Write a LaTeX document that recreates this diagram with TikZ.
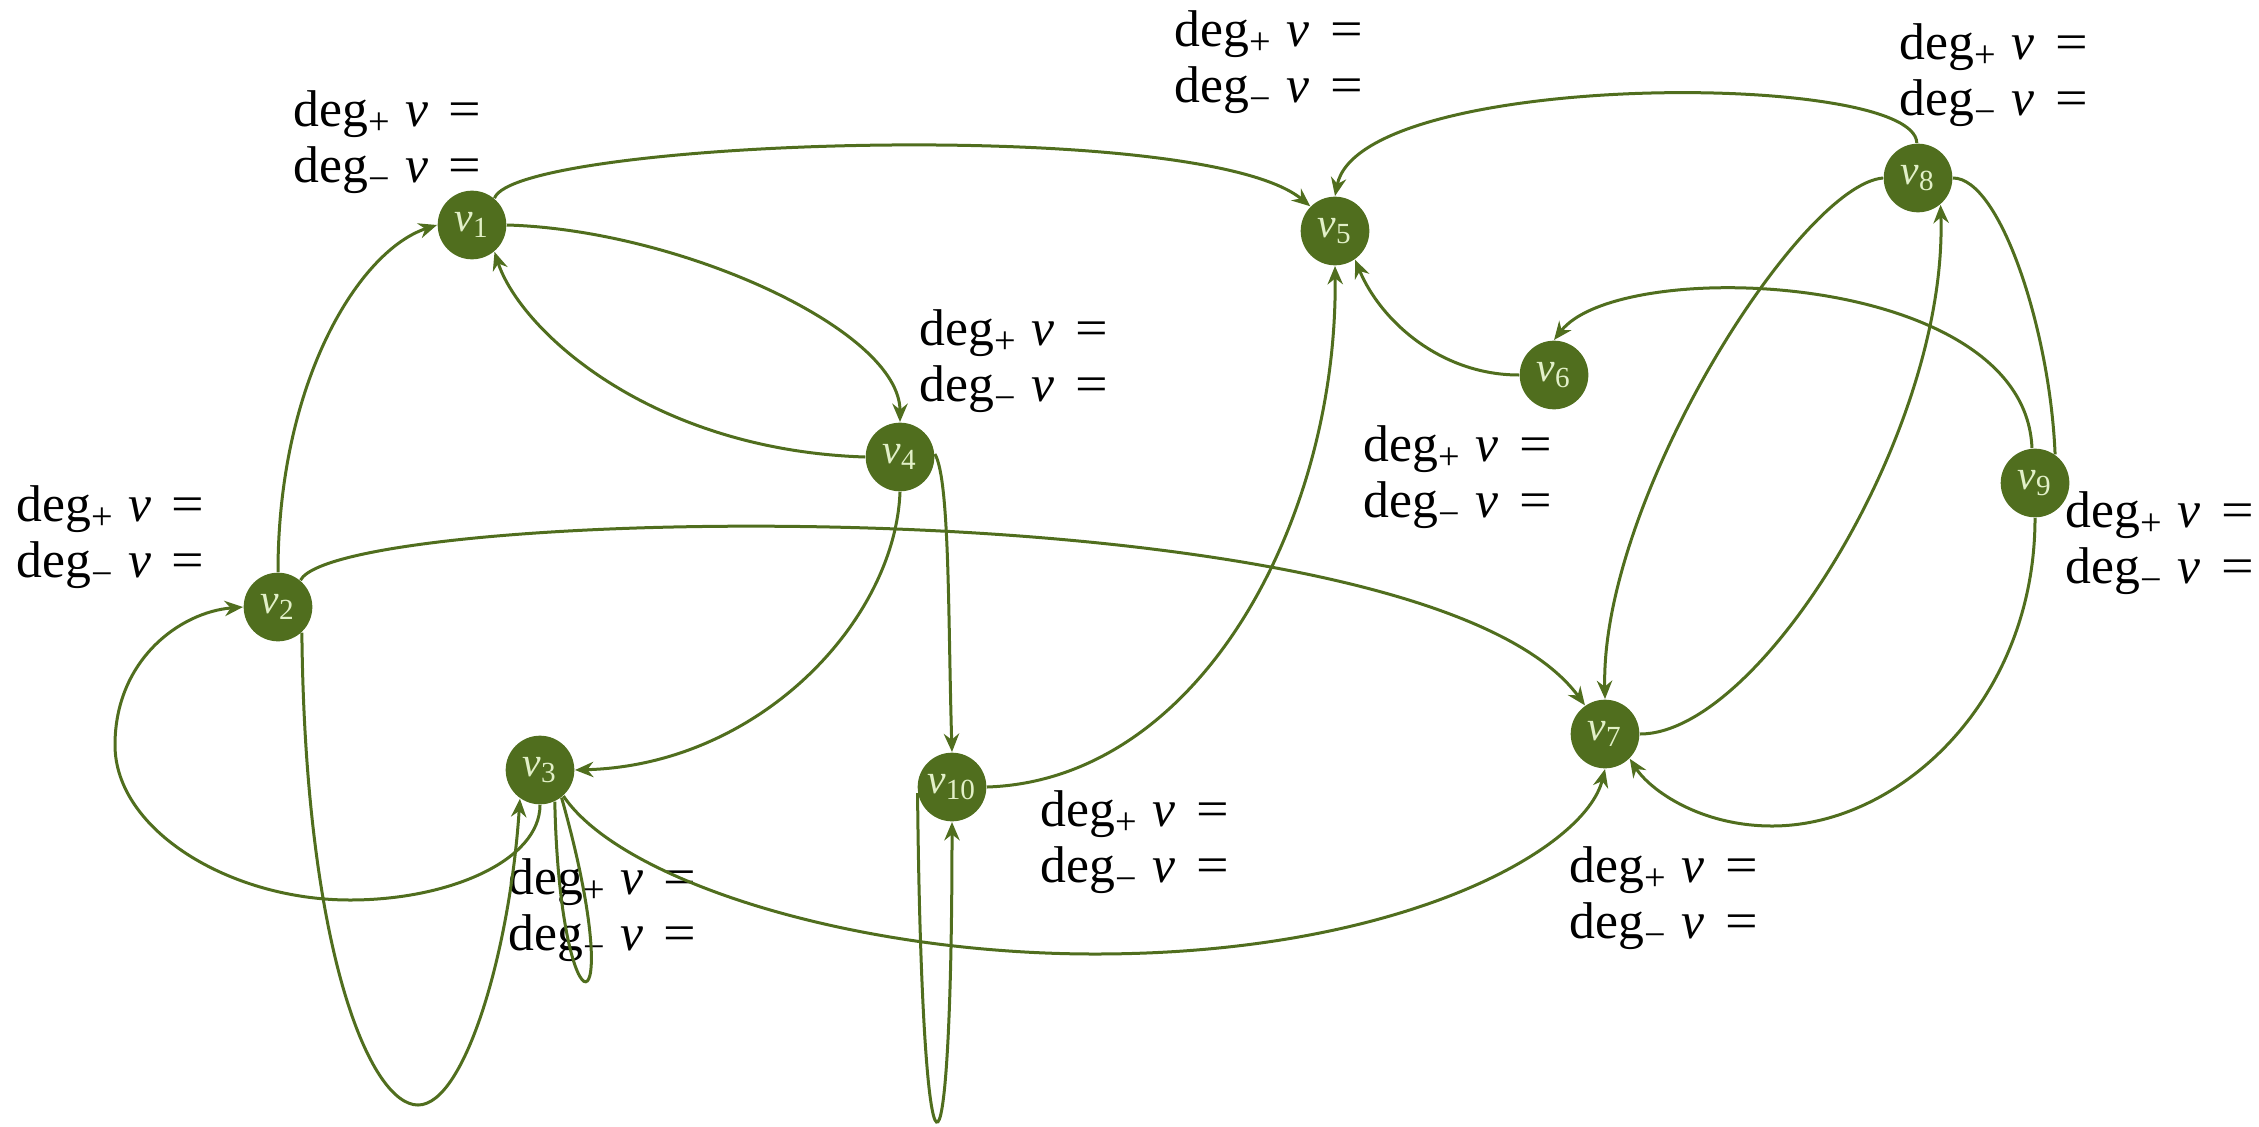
\documentclass[tikz,border=0pt]{standalone}
\usepackage{fontspec}
\setmainfont{Liberation Serif}
\usetikzlibrary{arrows.meta}
\definecolor{gcol}{RGB}{80,110,30}
\definecolor{gtxt}{RGB}{226,240,200}
\tikzset{
  vtx/.style={circle, fill=gcol, minimum size=20.6pt, inner sep=0pt, text=gtxt, font=\fontsize{12.5}{12.5}\selectfont},
  edge/.style={draw=gcol, line width=0.9pt, -{Stealth[length=5.5pt,width=4.6pt,inset=1.8pt]}},
  plain/.style={draw=gcol, line width=0.9pt},
  dlab/.style={anchor=west, align=left, inner sep=0pt, font=\fontsize{15.5}{17}\selectfont}
}
\newcommand\dsub[1]{\raisebox{-2.6pt}{\fontsize{11.5}{11.5}\selectfont #1}}
\newcommand\dlabtext{deg\dsub{+}\hspace{0.3em}\textit{v}\hspace{0.4em}\scalebox{1.12}[1]{=}\\deg\dsub{−}\hspace{0.3em}\textit{v}\hspace{0.4em}\scalebox{1.12}[1]{=}}
\begin{document}
\begin{tikzpicture}[x=0.3pt,y=-0.3pt]
\useasboundingbox (0,0) rectangle (2259,1126);
% vertices
\node[vtx] (v1) at (472,225) {\textit{v}\textsubscript{1}};
\node[vtx] (v2) at (278,607) {\textit{v}\textsubscript{2}};
\node[vtx] (v3) at (540,770) {\textit{v}\textsubscript{3}};
\node[vtx] (v4) at (900,457) {\textit{v}\textsubscript{4}};
\node[vtx] (v5) at (1335,231) {\textit{v}\textsubscript{5}};
\node[vtx] (v6) at (1554,375) {\textit{v}\textsubscript{6}};
\node[vtx] (v7) at (1605,734) {\textit{v}\textsubscript{7}};
\node[vtx] (v8) at (1918,178) {\textit{v}\textsubscript{8}};
\node[vtx] (v9) at (2035,483) {\textit{v}\textsubscript{9}};
\node[vtx] (v10) at (952,787) {\textit{v}\textsubscript{10}};
% degree labels
\node[dlab] (l1) at (293,142) {\dlabtext};
\node[dlab] (l2) at (16,537) {\dlabtext};
\node[dlab] (l3) at (508,910) {\dlabtext};
\node[dlab] (l4) at (919,361) {\dlabtext};
\node[dlab] (l5) at (1174,62) {\dlabtext};
\node[dlab] (l6) at (1363,477) {\dlabtext};
\node[dlab] (l7) at (1569,898) {\dlabtext};
\node[dlab] (l8) at (1899,75) {\dlabtext};
\node[dlab] (l9) at (2065,543) {\dlabtext};
\node[dlab] (l10) at (1040,842) {\dlabtext};
% edges
\draw[edge] (v1.50) .. controls (515,140) and (1200,115) .. (v5.135);
\draw[edge] (v1.0) .. controls (680,230) and (900,330) .. (v4.90);
\draw[edge] (v4.180) .. controls (650,450) and (520,330) .. (v1.-50);
\draw[edge] (v2.90) .. controls (278,380) and (360,250) .. (v1.180);
\draw[edge] (v2.50) .. controls (340,505) and (1420,480) .. (v7.125);
\draw[edge] (v3.-90) .. controls (540,860) and (450,900) .. (350,900)
   .. controls (230,900) and (115,830) .. (115,745)
   .. controls (115,660) and (180,612) .. (v2.180);
\draw[edge] (v2.-47) .. controls (305,950) and (370,1105) .. (418,1105)
   .. controls (465,1105) and (510,950) .. (v3.-125);
\draw[plain] (v3.-65) .. controls (560,1045) and (630,1040) .. (v3.-52);
\draw[edge] (v3.-48) .. controls (620,880) and (850,954) .. (1095,954)
   .. controls (1400,954) and (1585,850) .. (v7.-90);
\draw[edge] (v4.-90) .. controls (895,620) and (760,765) .. (v3.0);
\draw[edge] (v4.5) .. controls (950,480) and (948,620) .. (v10.90);
\draw[edge] (v10.190) .. controls (922,1225) and (952,1225) .. (v10.-90);
\draw[edge] (v10.0) .. controls (1200,780) and (1338,520) .. (v5.-90);
\draw[edge] (v6.180) .. controls (1440,375) and (1380,320) .. (v5.-55);
\draw[edge] (v8.92) .. controls (1915,70) and (1360,70) .. (v5.90);
\draw[edge] (v8.180) .. controls (1800,185) and (1600,500) .. (v7.90);
\draw[edge] (v7.0) .. controls (1760,734) and (1948,430) .. (v8.-50);
\draw[plain] (v8.0) .. controls (2000,178) and (2050,330) .. (v9.55);
\draw[edge] (v9.95) .. controls (2025,270) and (1620,255) .. (v6.90);
\draw[edge] (v9.-90) .. controls (2035,700) and (1900,826) .. (1772,826)
   .. controls (1700,826) and (1650,790) .. (v7.-45);
\end{tikzpicture}
\end{document}
